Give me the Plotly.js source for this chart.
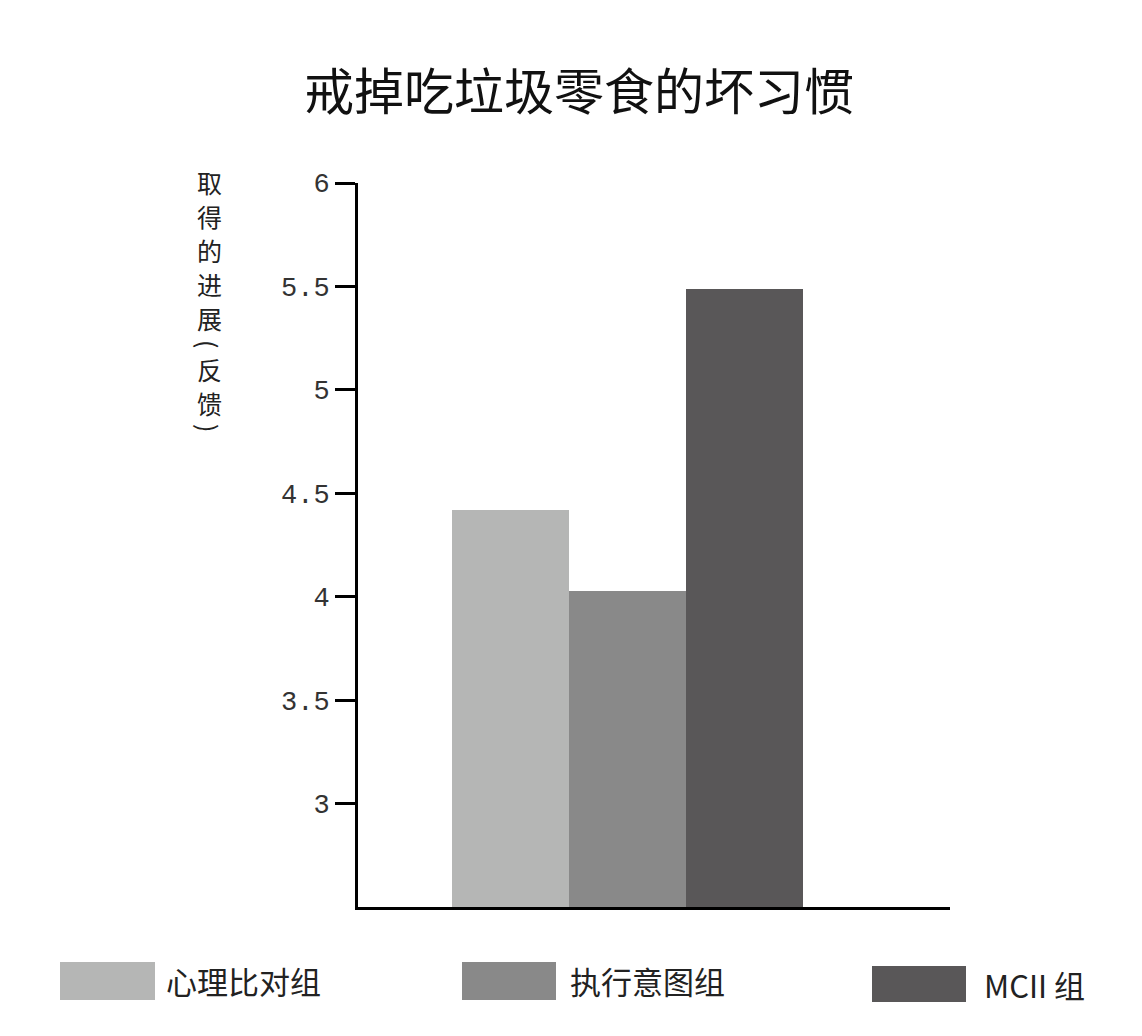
<!DOCTYPE html>
<html>
<head>
<meta charset="utf-8">
<script src="https://cdn.plot.ly/plotly-3.0.1.min.js"></script>
<style>html,body{margin:0;padding:0;background:#fff;}#chart{width:1142px;height:1036px;}</style>
</head>
<body>
<div id="chart"></div>
<script>
// ---- data ----
const chartTitle = '戒掉吃垃圾零食的坏习惯';
const yTitleChars = ['取','得','的','进','展','(','反','馈',')'];
const groups = ['心理比对组', '执行意图组', 'MCII 组'];
const progress = [4.42, 4.03, 5.49];
const barColors = ['#b5b6b5', '#898989', '#595758'];
const tickValues = [3, 3.5, 4, 4.5, 5, 5.5, 6];
const tickLabels = ['3', '3.5', '4', '4.5', '5', '5.5', '6'];

// ---- layout helpers (plot area in pixels) ----
const W = 1142, H = 1036;
const L = 358, R = 950, T = 183, B = 907;
const px = x => (x - L) / (R - L);
const py = y => (B - y) / (B - T);

const cjk = '"Noto Sans CJK SC", "Noto Sans", sans-serif';

const trace = {
  type: 'bar',
  x: groups,
  y: progress,
  marker: { color: barColors, line: { width: 0 } },
  showlegend: false,
  hoverinfo: 'x+y'
};

// legend drawn as boxes + labels
const legendBoxes = [
  { x0: 60, x1: 155, y0: 962, y1: 1000 },
  { x0: 462, x1: 556, y0: 962, y1: 1000 },
  { x0: 872, x1: 966, y0: 966, y1: 1002 }
];
const legendTextX = [164, 568, 982];

const shapes = legendBoxes.map((b, i) => ({
  type: 'rect', xref: 'paper', yref: 'paper',
  x0: px(b.x0), x1: px(b.x1), y0: py(b.y1), y1: py(b.y0),
  fillcolor: barColors[i], line: { width: 0 }, layer: 'above'
}));

const annotations = groups.map((g, i) => ({
  text: g, xref: 'paper', yref: 'paper',
  x: px(legendTextX[i]), y: py((legendBoxes[i].y0 + legendBoxes[i].y1) / 2),
  xanchor: 'left', yanchor: 'middle', showarrow: false,
  font: { family: cjk, size: 31, color: '#222' }
}));

// vertical stacked y-axis title, one character per row (brackets turned upright)
const yTitleRows = [182, 216, 250, 284, 318, 344, 369, 403, 428];
yTitleChars.forEach((c, i) => {
  const isBracket = (c === '(' || c === ')');
  annotations.push({
    text: c, xref: 'paper', yref: 'paper',
    x: px(209), y: py(yTitleRows[i]), xanchor: 'center', yanchor: 'middle', showarrow: false,
    textangle: isBracket ? 90 : 0,
    font: { family: cjk, size: 25, color: '#222' }
  });
});

const layout = {
  width: W, height: H,
  paper_bgcolor: '#fff', plot_bgcolor: '#fff',
  margin: { l: L, r: W - R, t: T, b: H - B, pad: 0 },
  title: {
    text: chartTitle, x: 0.507, xanchor: 'center', y: 1 - 92 / H, yanchor: 'middle',
    font: { family: cjk, size: 50, color: '#111' }
  },
  bargap: 0,
  xaxis: {
    type: 'category', range: [-1.303, 3.757], fixedrange: true,
    showline: true, linecolor: '#000', linewidth: 3,
    showticklabels: false, ticks: '', showgrid: false, zeroline: false
  },
  yaxis: {
    range: [2.5, 6], fixedrange: true,
    showline: true, linecolor: '#000', linewidth: 3,
    ticks: 'outside', ticklen: 20, tickwidth: 3, tickcolor: '#000',
    tickvals: tickValues, ticktext: tickLabels,
    tickfont: { family: '"Liberation Mono", monospace', size: 27, color: '#333' },
    showgrid: false, zeroline: false
  },
  shapes: shapes,
  annotations: annotations
};

Plotly.newPlot('chart', [trace], layout, { displayModeBar: false, staticPlot: true });
</script>
</body>
</html>
